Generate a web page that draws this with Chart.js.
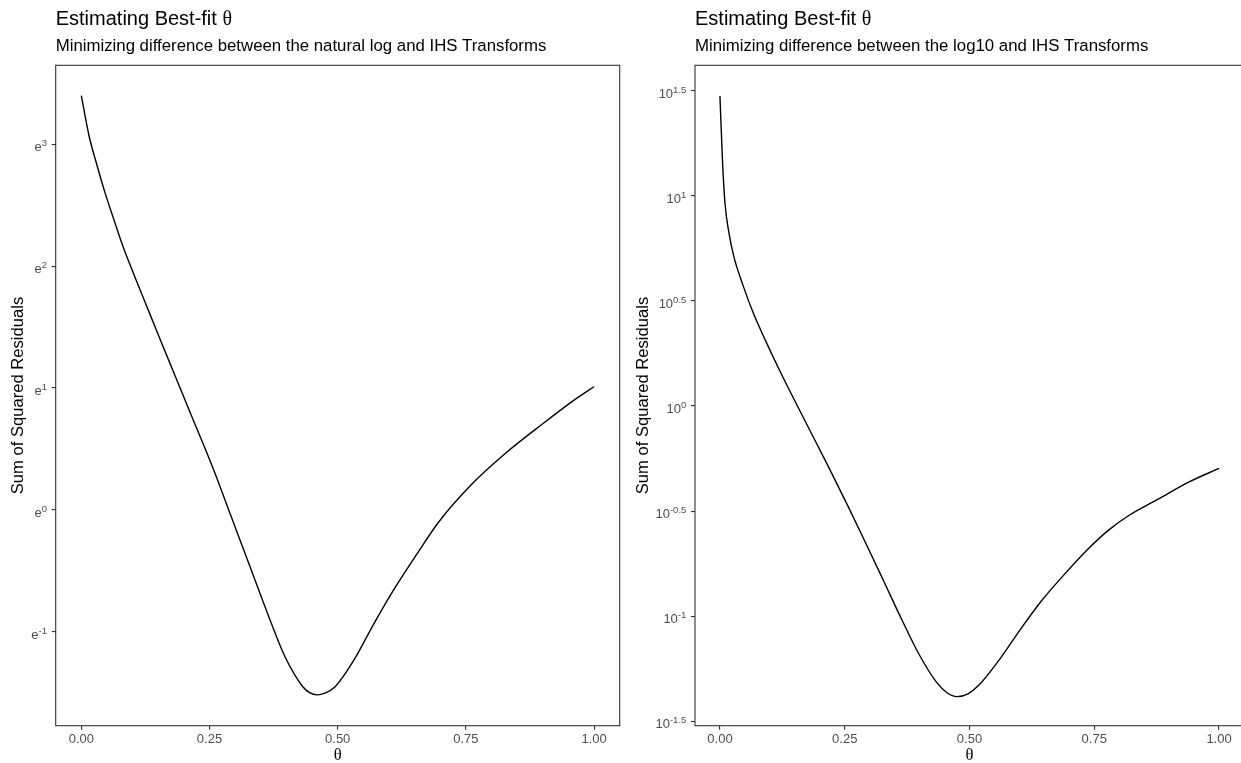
<!DOCTYPE html>
<html>
<head>
<meta charset="utf-8">
<script src="https://cdn.jsdelivr.net/npm/chart.js@4.4.0/dist/chart.umd.min.js"></script>
<style>
html, body { margin: 0; padding: 0; background: #fff; overflow: hidden; width: 1241px; height: 763px; }
#leftChart { position: absolute; left: 0; top: 0; }
#rightChart { position: absolute; left: 625px; top: 0; }
</style>
</head>
<body>
<canvas id="leftChart" width="621" height="763"></canvas>
<canvas id="rightChart" width="621" height="763"></canvas>
<script>
// x axis (theta) ticks, shared by both panels
const thetaTicks = [0, 0.25, 0.5, 0.75, 1];

// left panel: natural log vs IHS
const lnTheta = [0.000, 0.015, 0.029, 0.046, 0.064, 0.084, 0.105, 0.130, 0.154, 0.182,
                 0.211, 0.258, 0.293, 0.328, 0.363, 0.397, 0.432, 0.445, 0.460, 0.475,
                 0.495, 0.530, 0.571, 0.613, 0.655, 0.697, 0.759, 0.829, 0.898, 0.961,
                 1.000];
const lnSSR = [29.96, 21.54, 17.29, 13.53, 10.75, 8.41, 6.72, 5.18, 4.04, 3.03,
               2.25, 1.388, 0.938, 0.634, 0.428, 0.300, 0.234, 0.223, 0.219, 0.222,
               0.234, 0.288, 0.394, 0.532, 0.698, 0.905, 1.221, 1.600, 2.014, 2.460,
               2.746];
const lnTickExps = [-1, 0, 1, 2, 3];
const lnRange = [0.170, 38.4];

// right panel: log10 vs IHS
const log10Theta = [0.000, 0.005, 0.010, 0.018, 0.028, 0.046, 0.067, 0.092, 0.123, 0.166,
                    0.215, 0.257, 0.292, 0.328, 0.363, 0.398, 0.433, 0.455, 0.475, 0.497,
                    0.518, 0.560, 0.602, 0.644, 0.687, 0.736, 0.778, 0.820, 0.877, 0.940,
                    1.000];
const log10SSR = [29.85, 14.76, 9.27, 6.67, 5.12, 3.76, 2.76, 2.03, 1.42, 0.891,
                  0.527, 0.332, 0.223, 0.147, 0.0977, 0.0664, 0.0488, 0.0432, 0.0414, 0.0427,
                  0.0467, 0.0621, 0.0865, 0.118, 0.155, 0.207, 0.256, 0.302, 0.359, 0.435,
                  0.505];
const log10TickExps = [-1.5, -1, -0.5, 0, 0.5, 1, 1.5];
const log10Range = [0.0301, 41.8];

const SANS = '"Liberation Sans", Arial, Helvetica, sans-serif';
const SERIF = '"Liberation Serif", "DejaVu Serif", serif';

// frame, titles and superscript tick labels
const decorPlugin = {
    id: 'decor',
    afterDraw(chart, args, opts) {
        const ctx = chart.ctx;
        const area = chart.chartArea;
        ctx.save();

        ctx.strokeStyle = '#333';
        ctx.lineWidth = 1.1;
        ctx.strokeRect(area.left, area.top, area.right - area.left, area.bottom - area.top);

        ctx.fillStyle = '#000';
        ctx.textAlign = 'left';
        ctx.textBaseline = 'alphabetic';
        ctx.font = '20px ' + SANS;
        const head = 'Estimating Best-fit ';
        ctx.fillText(head, area.left, 25);
        const hw = ctx.measureText(head).width;
        ctx.font = '20px ' + SERIF;
        ctx.fillText('θ', area.left + hw, 25);

        ctx.font = '16.8px ' + SANS;
        ctx.fillText(opts.subtitle, area.left, 50.5);

        const y = chart.scales.y;
        ctx.fillStyle = '#4d4d4d';
        opts.exps.forEach(k => {
            const py = y.getPixelForValue(Math.pow(opts.base, k));
            const sup = String(k);
            ctx.font = '9.5px ' + SANS;
            const sw = ctx.measureText(sup).width;
            ctx.font = '13px ' + SANS;
            const bw = ctx.measureText(opts.baseLabel).width;
            const xEnd = area.left - 8.7;
            ctx.fillText(opts.baseLabel, xEnd - sw - bw, py + 7.2);
            ctx.font = '9.5px ' + SANS;
            ctx.fillText(sup, xEnd - sw, py + 2);
        });

        ctx.restore();
    }
};

function makeChart(id, theta, ssr, range, base, baseLabel, exps, subtitle, axisWidth, padRight) {
    const points = theta.map((t, i) => ({x: t, y: ssr[i]}));
    return new Chart(document.getElementById(id), {
        type: 'line',
        data: {
            datasets: [{
                data: points,
                borderColor: '#000',
                borderWidth: 1.4,
                pointRadius: 0,
                fill: false,
                cubicInterpolationMode: 'monotone'
            }]
        },
        options: {
            responsive: false,
            animation: false,
            layout: { padding: { top: 65.3, right: padRight, bottom: 0, left: 0 } },
            plugins: {
                legend: { display: false },
                tooltip: { enabled: false },
                decor: { subtitle: subtitle, base: base, baseLabel: baseLabel, exps: exps }
            },
            scales: {
                x: {
                    type: 'linear',
                    min: -0.05,
                    max: 1.05,
                    afterBuildTicks: s => { s.ticks = thetaTicks.map(v => ({value: v})); },
                    afterFit: s => { s.height = 37.3; },
                    ticks: {
                        autoSkip: false,
                        maxRotation: 0,
                        padding: 2,
                        color: '#4d4d4d',
                        font: { family: SANS, size: 13 },
                        callback: v => Number(v).toFixed(2)
                    },
                    grid: { drawOnChartArea: false, tickLength: 4, color: '#333', lineWidth: 1.1 },
                    border: { display: false },
                    title: {
                        display: true,
                        text: 'θ',
                        color: '#000',
                        font: { family: SERIF, size: 16.6, lineHeight: 0.9 },
                        padding: { top: 0, bottom: 0 }
                    }
                },
                y: {
                    type: 'logarithmic',
                    min: range[0],
                    max: range[1],
                    afterBuildTicks: s => { s.ticks = exps.map(k => ({value: Math.pow(base, k)})); },
                    afterFit: s => { s.width = axisWidth; },
                    ticks: { display: false, autoSkip: false },
                    grid: { drawOnChartArea: false, tickLength: 4, color: '#333', lineWidth: 1.1 },
                    border: { display: false },
                    title: {
                        display: true,
                        text: 'Sum of Squared Residuals',
                        color: '#000',
                        font: { family: SANS, size: 16.6 },
                        padding: { top: 8, bottom: 0 }
                    }
                }
            }
        },
        plugins: [decorPlugin]
    });
}

window.leftChartObj = makeChart('leftChart', lnTheta, lnSSR, lnRange, Math.E, 'e', lnTickExps,
    'Minimizing difference between the natural log and IHS Transforms', 55.7, 1.3);
window.rightChartObj = makeChart('rightChart', log10Theta, log10SSR, log10Range, 10, '10', log10TickExps,
    'Minimizing difference between the log10 and IHS Transforms', 70, 2);
</script>
</body>
</html>
